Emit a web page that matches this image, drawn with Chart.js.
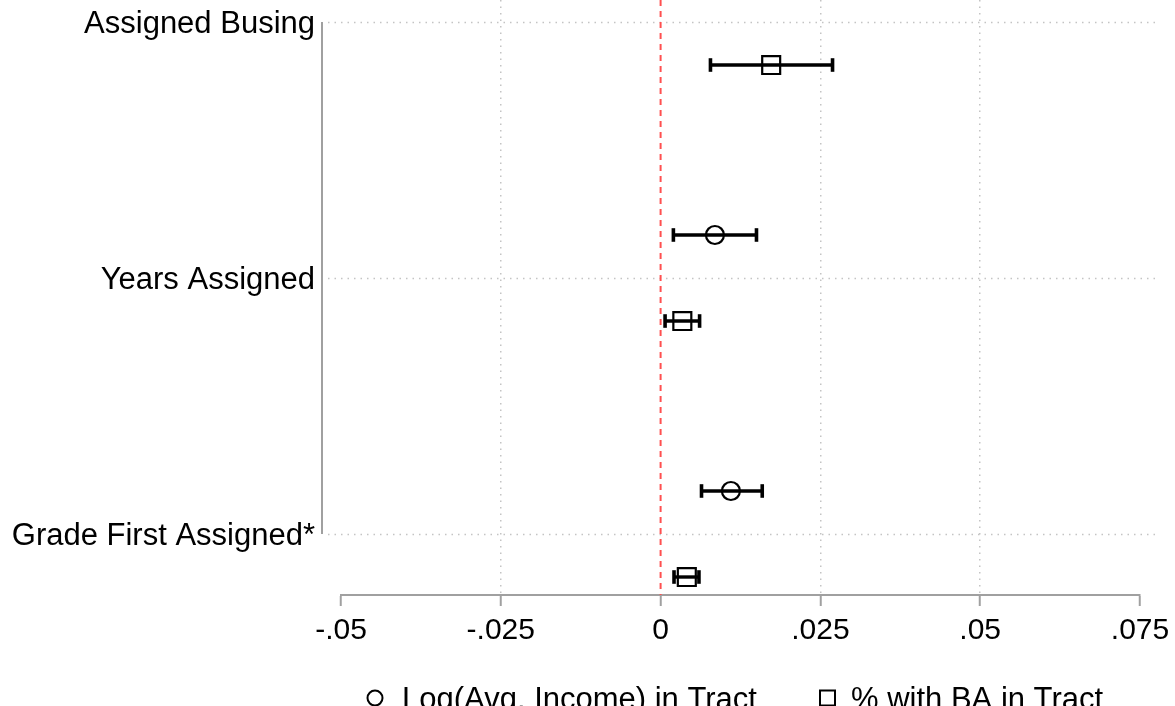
<!DOCTYPE html>
<html>
<head>
<meta charset="utf-8">
<script src="https://cdn.jsdelivr.net/npm/chart.js@4.4.1/dist/chart.umd.min.js"></script>
<style>
  html, body { margin: 0; padding: 0; background: #fff; }
  #wrap { width: 1175px; height: 706px; position: relative; }
</style>
</head>
<body>
<div id="wrap"><canvas id="c" width="1175" height="706"></canvas></div>
<script>
// Outcomes (rows) and the two neighbourhood measures (series)
const categories = ['Assigned Busing', 'Years Assigned', 'Grade First Assigned*'];
const seriesNames = ['Log(Avg. Income) in Tract', '% with BA in Tract'];

// Point estimates and confidence bounds, one entry per row (null = not shown)
const incomeEst = [null, 0.0085, 0.0110];
const incomeLo  = [null, 0.0020, 0.0064];
const incomeHi  = [null, 0.0150, 0.0159];

const baEst = [0.0173, 0.0034, 0.0041];
const baLo  = [0.0078, 0.0007, 0.0021];
const baHi  = [0.0269, 0.0061, 0.0060];

// Horizontal axis ticks
const xTicks = [-0.05, -0.025, 0, 0.025, 0.05, 0.075];
const xTickLabels = ['-.05', '-.025', '0', '.025', '.05', '.075'];

// Row layout: row i sits at i+1, the two series are drawn above / below it
const ROW_SHIFT = 0.168;
const Y_MIN = 1 - 22 / 256;
const Y_MAX = 3 + 61 / 256;

const FONT = '"Liberation Sans", Arial, Helvetica, sans-serif';
Chart.defaults.font.family = FONT;
Chart.defaults.color = '#000';

function rowY(i, series) {
  return i + 1 + (series === 0 ? -ROW_SHIFT : ROW_SHIFT);
}

function intervalSets(est, lo, hi, series) {
  const out = [];
  est.forEach((v, i) => {
    if (v === null) return;
    const y = rowY(i, series);
    out.push({
      type: 'scatter',
      showLine: true,
      data: [{ x: lo[i], y: y }, { x: hi[i], y: y }],
      borderColor: '#000',
      borderWidth: 3.4,
      pointStyle: 'line',
      rotation: 90,
      pointRadius: 6.8,
      pointBorderWidth: 3.6,
      pointBorderColor: '#000',
      order: 2
    });
  });
  return out;
}

function markerSet(est, series, style, radius) {
  const pts = [];
  est.forEach((v, i) => { if (v !== null) pts.push({ x: v, y: rowY(i, series) }); });
  return {
    type: 'scatter',
    label: seriesNames[series],
    data: pts,
    pointStyle: style,
    pointRadius: radius,
    pointBackgroundColor: 'rgba(0,0,0,0)',
    pointBorderColor: '#000',
    pointBorderWidth: 2.2,
    order: 1
  };
}

const zeroLine = {
  type: 'scatter',
  showLine: true,
  data: [{ x: 0, y: Y_MIN }, { x: 0, y: Y_MAX }],
  borderColor: '#ff5050',
  borderWidth: 2,
  borderDash: [6, 5],
  pointRadius: 0,
  order: 3
};

// Category guide lines and the short vertical axis beside the plot region
const frame = {
  id: 'frame',
  beforeDatasetsDraw(chart) {
    const { ctx, chartArea, scales: { y } } = chart;
    ctx.save();
    ctx.strokeStyle = '#c4c4c4';
    ctx.lineWidth = 1.5;
    ctx.setLineDash([1.5, 5]);
    categories.forEach((c, i) => {
      const py = Math.round(y.getPixelForValue(i + 1)) + 0.5;
      ctx.beginPath();
      ctx.moveTo(chartArea.left - 13, py);
      ctx.lineTo(chartArea.right + 17, py);
      ctx.stroke();
    });
    ctx.setLineDash([]);
    ctx.strokeStyle = '#a0a0a0';
    ctx.lineWidth = 2;
    const ax = chartArea.left - 19;
    ctx.beginPath();
    ctx.moveTo(ax, y.getPixelForValue(1));
    ctx.lineTo(ax, y.getPixelForValue(categories.length));
    ctx.stroke();
    ctx.restore();
  }
};

// Legend row under the axis
const keyRow = {
  id: 'keyRow',
  afterDraw(chart) {
    const ctx = chart.ctx;
    ctx.save();
    ctx.font = '31px ' + FONT;
    ctx.fillStyle = '#000';
    ctx.textBaseline = 'alphabetic';
    ctx.strokeStyle = '#000';
    ctx.lineWidth = 2;
    const base = 709;
    const mid = 698;
    // circle key
    ctx.beginPath();
    ctx.arc(375, mid, 7.5, 0, Math.PI * 2);
    ctx.stroke();
    ctx.fillText(seriesNames[0], 402, base);
    // square key
    ctx.strokeRect(820, mid - 7.5, 15, 15);
    ctx.fillText(seriesNames[1], 851, base);
    ctx.restore();
  }
};

const datasets = [
  zeroLine,
  ...intervalSets(incomeEst, incomeLo, incomeHi, 0),
  ...intervalSets(baEst, baLo, baHi, 1),
  markerSet(incomeEst, 0, 'circle', 9),
  markerSet(baEst, 1, 'rect', 12.7)
];

new Chart(document.getElementById('c'), {
  type: 'scatter',
  data: { datasets },
  plugins: [frame, keyRow],
  options: {
    responsive: false,
    animation: false,
    layout: { autoPadding: false, padding: { top: 0, left: 0, right: 35, bottom: 0 } },
    plugins: { legend: { display: false }, tooltip: { enabled: false } },
    scales: {
      x: {
        type: 'linear',
        position: 'bottom',
        min: xTicks[0],
        max: xTicks[xTicks.length - 1],
        afterBuildTicks: s => { s.ticks = xTicks.map(v => ({ value: v })); },
        afterFit: s => { s.height = 111; s.paddingLeft = 0; s.paddingRight = 0; },
        ticks: {
          autoSkip: false,
          maxRotation: 0,
          padding: 7,
          font: { size: 30 },
          color: '#000',
          callback: (v, i) => xTickLabels[i]
        },
        grid: {
          color: c => {
            const v = c.tick ? c.tick.value : 0;
            return (v !== 0 && v !== xTicks[0] && v !== xTicks[xTicks.length - 1]) ? '#c4c4c4' : 'rgba(0,0,0,0)';
          },
          lineWidth: 1.5,
          tickLength: 11,
          tickColor: '#a0a0a0',
          tickWidth: 2
        },
        border: { display: true, color: '#a0a0a0', width: 2, dash: [1.5, 5] }
      },
      y: {
        type: 'linear',
        reverse: true,
        min: Y_MIN,
        max: Y_MAX,
        afterBuildTicks: s => {
          s.ticks = [Y_MIN, 1, 2, 3, Y_MAX].map(v => ({ value: v }));
        },
        afterFit: s => { s.width = 341; s.paddingTop = 0; s.paddingBottom = 0; },
        ticks: {
          autoSkip: false,
          padding: 26,
          labelOffset: 2,
          font: { size: 31 },
          color: '#000',
          callback: v => (Number.isInteger(v) ? categories[v - 1] : null)
        },
        grid: { display: false, drawTicks: false },
        border: { display: false }
      }
    }
  }
});
</script>
</body>
</html>
